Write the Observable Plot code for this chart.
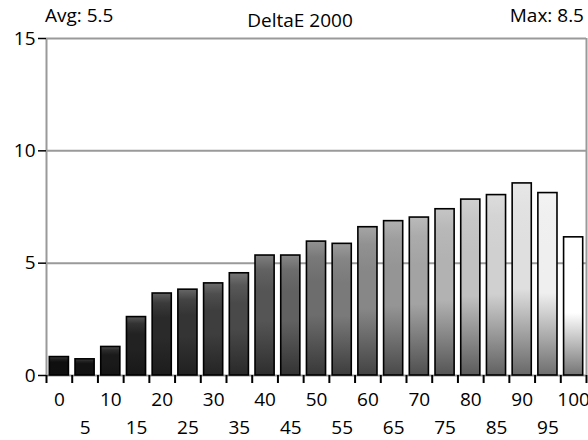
<!DOCTYPE html>
<html><head><meta charset="utf-8">
<script src="https://cdn.jsdelivr.net/npm/d3@7"></script>
<script src="https://cdn.jsdelivr.net/npm/@observablehq/plot@0.6"></script>
<style>
body{margin:0;background:#fff;}
#wrap{position:relative;width:588px;height:440px;font-family:"Open Sans",sans-serif;color:#000;}
.hdr{position:absolute;font-size:19px;line-height:19px;white-space:nowrap;}
#wrap svg{position:absolute;left:0;top:0;}
</style></head><body><div id="wrap"></div>
<script>
const categories = [0,5,10,15,20,25,30,35,40,45,50,55,60,65,70,75,80,85,90,95,100];
const deltaE = [0.82,0.72,1.27,2.6,3.65,3.82,4.1,4.55,5.34,5.34,5.96,5.86,6.6,6.87,7.03,7.4,7.83,8.03,8.55,8.12,6.15];
const yTicks = [0,5,10,15];
const evenLabels = [0,10,20,30,40,50,60,70,80,90,100];
const oddLabels = [5,15,25,35,45,55,65,75,85,95];
const titleText = "DeltaE 2000";
const avgText = "Avg: 5.5";
const maxText = "Max: 8.5";

const data = categories.map((c, i) => ({cat: c, value: deltaE[i], idx: i}));
const boundaries = categories.map(c => c - 2.5).concat([categories[categories.length - 1] + 2.5]);

const chart = Plot.plot({
  width: 588,
  height: 440,
  marginTop: 38,
  marginBottom: 65,
  marginLeft: 46,
  marginRight: 2,
  style: {fontFamily: "'Open Sans', sans-serif", fontSize: "19px", color: "#000", background: "#fff"},
  x: {domain: [-2.5, 102.5]},
  y: {domain: [0, 15]},
  color: {type: "identity"},
  marks: [
    Plot.gridY([5, 10, 15], {stroke: "#9a9a9a", strokeOpacity: 1, strokeWidth: 2}),
    Plot.ruleX([-2.5, 102.5], {stroke: "#9a9a9a", strokeWidth: 2}),
    Plot.ruleY([0], {stroke: "#9a9a9a", strokeWidth: 2}),
    Plot.rectY(data, {
      x1: d => d.cat - 2.5,
      x2: d => d.cat + 2.5,
      y: "value",
      insetLeft: 3.3,
      insetRight: 3.3,
      fill: d => `url(#bargrad${d.idx})`,
      stroke: "#000",
      strokeWidth: 1.6
    }),
    Plot.axisY(yTicks, {tickSize: 8, tickPadding: 3, fontSize: 19, strokeWidth: 1.5, label: null}),
    Plot.axisX(boundaries, {tickSize: 8, tickFormat: () => "", strokeWidth: 2, label: null}),
    Plot.axisX(evenLabels, {tickSize: 0, tickPadding: 17, fontSize: 19, label: null}),
    Plot.axisX(oddLabels, {tickSize: 0, tickPadding: 45, fontSize: 19, label: null})
  ]
});

// gradient definitions for the bar shading
const svg = d3.select(chart);
const defs = svg.insert("defs", ":first-child");
const n = categories.length;
categories.forEach((c, i) => {
  const t = i / (n - 1);
  const L = 15 + 240 * Math.pow(t, 1.35);
  const g = v => { const k = Math.round(Math.max(0, Math.min(255, v))); return `rgb(${k},${k},${k})`; };
  const grad = defs.append("linearGradient").attr("id", `bargrad${i}`)
    .attr("x1", 0).attr("y1", 0).attr("x2", 0).attr("y2", 1);
  grad.append("stop").attr("offset", 0).attr("stop-color", g(L + 0.25 * (255 - L)));
  grad.append("stop").attr("offset", 0.12).attr("stop-color", g(L + 0.08 * (255 - L)));
  grad.append("stop").attr("offset", 0.3).attr("stop-color", g(L));
  grad.append("stop").attr("offset", 0.55).attr("stop-color", g(L));
  grad.append("stop").attr("offset", 1).attr("stop-color", g(L * 0.42 + 10));
});

const wrap = document.getElementById("wrap");
wrap.appendChild(chart);
function header(text, css) {
  const d = document.createElement("div");
  d.className = "hdr";
  d.textContent = text;
  Object.assign(d.style, css);
  wrap.appendChild(d);
}
header(avgText, {left: "45px", top: "6px"});
header(maxText, {right: "4px", top: "6px"});
header(titleText, {left: "300px", top: "11px", transform: "translateX(-50%)"});
</script>
</body></html>
